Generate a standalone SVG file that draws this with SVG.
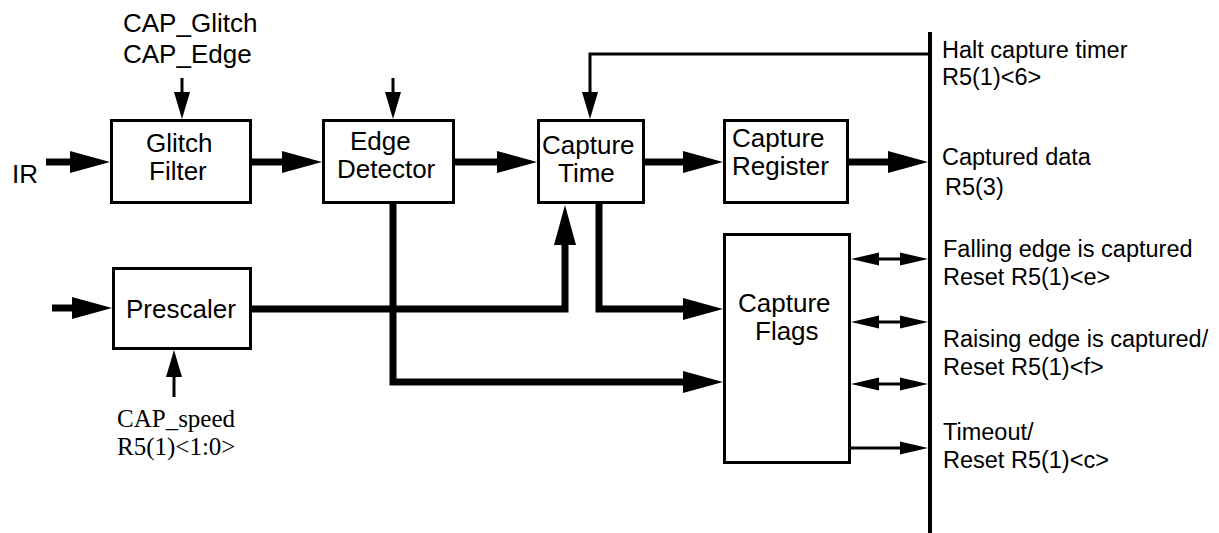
<svg xmlns="http://www.w3.org/2000/svg" width="1219" height="533" viewBox="0 0 1219 533">
<style>
.box{fill:#fff;stroke:#000;stroke-width:3}
.lbl{font-family:"Liberation Sans",Arial,sans-serif;font-size:26px;fill:#000}
.side{font-family:"Liberation Sans",Arial,sans-serif;font-size:23.5px;fill:#000}
.serif{font-family:"Liberation Serif","Times New Roman",serif;font-size:25px;fill:#000}
.thick{fill:none;stroke:#000;stroke-width:7;marker-end:url(#ah)}
.thin{fill:none;stroke:#000;stroke-width:3;marker-end:url(#at)}
.bi{fill:none;stroke:#000;stroke-width:3;marker-start:url(#as);marker-end:url(#as)}
.one{fill:none;stroke:#000;stroke-width:3;marker-end:url(#as)}
</style>
<defs>
<marker id="ah" markerUnits="userSpaceOnUse" markerWidth="40" markerHeight="22" refX="10" refY="11" orient="auto" overflow="visible"><path d="M0,0 L40,11 L0,22 z" fill="#000"/></marker>
<marker id="at" markerUnits="userSpaceOnUse" markerWidth="27" markerHeight="16" refX="8" refY="8" orient="auto" overflow="visible"><path d="M0,0 L27,8 L0,16 z" fill="#000"/></marker>
<marker id="as" markerUnits="userSpaceOnUse" markerWidth="28" markerHeight="13" refX="8" refY="6.5" orient="auto-start-reverse" overflow="visible"><path d="M0,0 L28,6.5 L0,13 z" fill="#000"/></marker>
</defs>
<rect width="1219" height="533" fill="#fff"/>
<g id="connectors">
<line x1="930" y1="32" x2="930" y2="533" stroke="#000" stroke-width="4"/>
<path class="thick" d="M46,162 H80"/>
<path class="thick" d="M251,162 H292"/>
<path class="thick" d="M455,162 H507"/>
<path class="thick" d="M645,162 H693"/>
<path class="thick" d="M849,162 H898"/>
<path class="thick" d="M52,308 H82"/>
<path class="thick" d="M251,309 H565 V235"/>
<path class="thick" d="M599,203 V309 H693"/>
<path class="thick" d="M393,203 V382 H693"/>
<path class="thin" d="M182,78 V100"/>
<path class="thin" d="M393,78 V100"/>
<path class="thin" d="M928,54 H590 V100"/>
<path class="thin" d="M174,397 V369"/>
<path class="bi" d="M871,259 H908"/>
<path class="bi" d="M871,322 H908"/>
<path class="bi" d="M871,384 H908"/>
<path class="one" d="M851,448 H908"/>
</g>
<g id="glitch-filter">
<rect class="box" x="111.5" y="120.5" width="139" height="82"/>
<text class="lbl" x="146" y="152">Glitch</text>
<text class="lbl" x="149" y="180">Filter</text>
</g>
<g id="edge-detector">
<rect class="box" x="323.5" y="120.5" width="130" height="82"/>
<text class="lbl" x="350" y="150">Edge</text>
<text class="lbl" x="337" y="178">Detector</text>
</g>
<g id="capture-time">
<rect class="box" x="538.5" y="120.5" width="105" height="82"/>
<text class="lbl" x="542" y="154">Capture</text>
<text class="lbl" x="558" y="182">Time</text>
</g>
<g id="capture-register">
<rect class="box" x="724.5" y="120.5" width="123" height="82"/>
<text class="lbl" x="732" y="147">Capture</text>
<text class="lbl" x="732" y="175">Register</text>
</g>
<g id="prescaler">
<rect class="box" x="113.5" y="268.5" width="137" height="80"/>
<text class="lbl" x="126" y="318">Prescaler</text>
</g>
<g id="capture-flags">
<rect class="box" x="724.5" y="234.5" width="125" height="228"/>
<text class="lbl" x="738" y="312">Capture</text>
<text class="lbl" x="755" y="340">Flags</text>
</g>
<g id="labels">
<text class="lbl" x="12" y="183">IR</text>
<text class="lbl" x="123" y="32">CAP_Glitch</text>
<text class="lbl" x="123" y="63">CAP_Edge</text>
<text class="serif" x="117" y="427">CAP_speed</text>
<text class="serif" x="117" y="455">R5(1)&lt;1:0&gt;</text>
<text class="side" x="942" y="58">Halt capture timer</text>
<text class="side" x="942" y="85">R5(1)&lt;6&gt;</text>
<text class="side" x="942" y="165">Captured data</text>
<text class="side" x="945" y="195">R5(3)</text>
<text class="side" x="943" y="257">Falling edge is captured</text>
<text class="side" x="943" y="285">Reset R5(1)&lt;e&gt;</text>
<text class="side" x="943" y="347">Raising edge is captured/</text>
<text class="side" x="943" y="375">Reset R5(1)&lt;f&gt;</text>
<text class="side" x="943" y="440">Timeout/</text>
<text class="side" x="943" y="468">Reset R5(1)&lt;c&gt;</text>
</g>
</svg>
